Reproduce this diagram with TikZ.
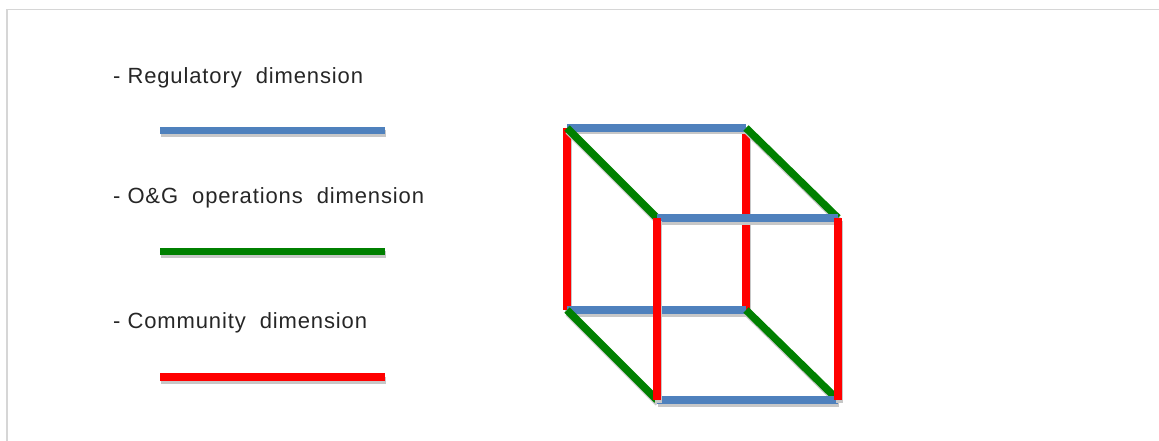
\documentclass[tikz,border=0pt]{standalone}
\usepackage{fontspec}
\setmainfont{Liberation Sans}[LetterSpace=4]
\usepackage{tikz}
\usetikzlibrary{positioning}
\definecolor{regblue}{RGB}{79,129,189}
\definecolor{opsgreen}{RGB}{0,128,0}
\definecolor{comred}{RGB}{255,0,0}

\begin{document}
\begin{tikzpicture}[
        x=1pt, y=-1pt,
        lbl/.style  = {anchor=base west, inner sep=0pt, text=black!85, font=\fontsize{22}{26}\selectfont},
        bar/.style  = {line width=7.5pt, preaction={draw=black!22, line width=7pt, transform canvas={xshift=1pt, yshift=-3pt}}},
        reg/.style  = {bar, draw=regblue},
        ops/.style  = {bar, draw=opsgreen},
        com/.style  = {bar, draw=comred},
        frame/.style = {draw=black!16, line width=1.5pt},
    ]
        \useasboundingbox (0,0) rectangle (1159,441);
        \draw[frame] (7,441) -- (7,9.5) -- (1159,9.5);

        % legend
        \node[lbl] (lreg) at (113,84)  {- Regulatory\ \ dimension};
        \node[lbl] (lops) at (113,203) {- O\&G\ \ operations\ \ dimension};
        \node[lbl] (lcom) at (113,328) {- Community\ \ dimension};
        \draw[reg] (160,130.5) -- (385,130.5);
        \draw[ops] (160,251.5) -- (385,251.5);
        \draw[com] (160,377)   -- (385,377);

        % cube corners
        \coordinate (bTL) at (567,128);
        \coordinate (bTR) at (746,128);
        \coordinate (bBL) at (567,310);
        \coordinate (bBR) at (746,310);
        \coordinate (fTL) at (657,218);
        \coordinate (fTR) at (838,218);
        \coordinate (fBL) at (657,400);
        \coordinate (fBR) at (838,400);

        % back face
        \draw[com] (bTL) -- (bBL);
        \draw[com] (bTR) -- (bBR);
        \draw[reg] (bTL) -- (bTR);
        \draw[reg] (bBL) -- (bBR);
        % depth edges
        \draw[ops] (bTL) -- (fTL);
        \draw[ops] (bTR) -- (fTR);
        \draw[ops] (bBL) -- (fBL);
        \draw[ops] (bBR) -- (fBR);
        % front face
        \draw[reg] (fTL) -- (fTR);
        \draw[reg] (fBL) -- (fBR);
        \draw[com] (fTL) -- (fBL);
        \draw[com] (fTR) -- (fBR);
    \end{tikzpicture}
\end{document}
